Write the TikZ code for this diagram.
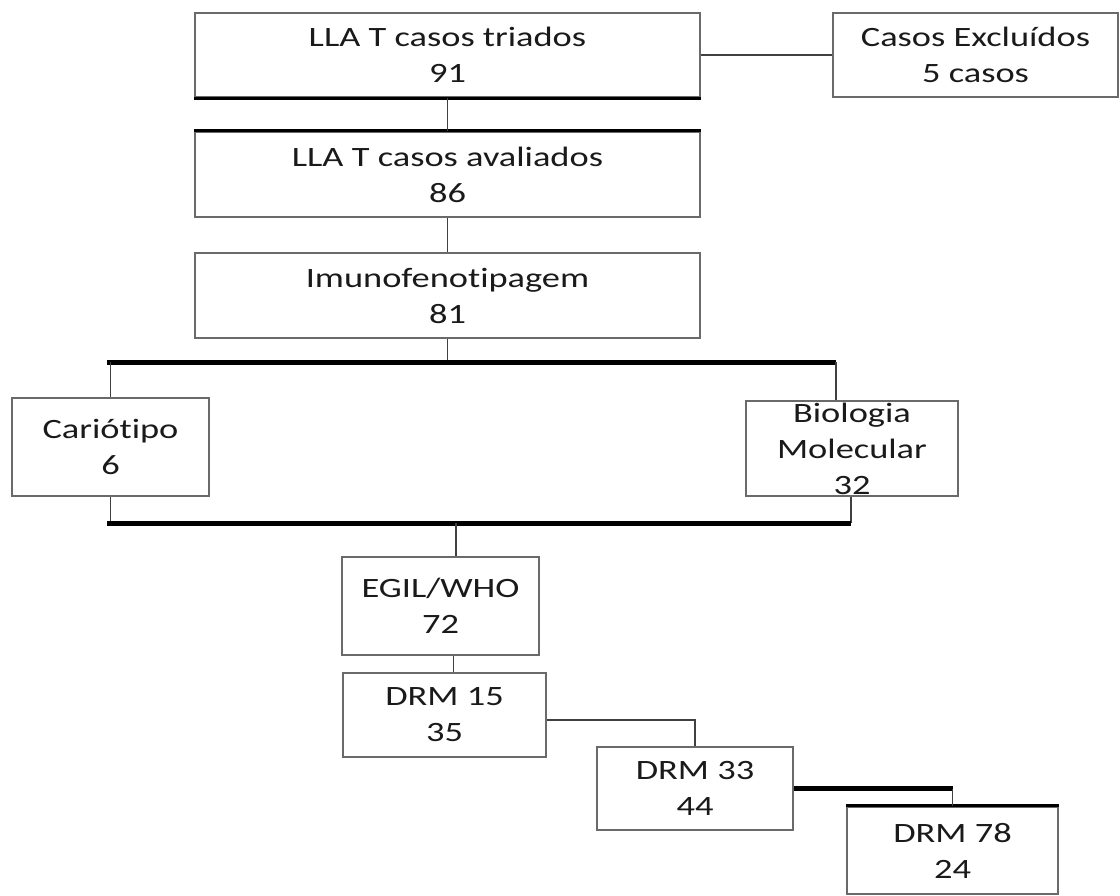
\documentclass[tikz,border=0pt]{standalone}
\usepackage{fontspec}
\setmainfont{Carlito}[FakeStretch=1.3, Ligatures=NoCommon]
\usetikzlibrary{calc}
\definecolor{boxgray}{HTML}{6A6A6A}
\definecolor{linegray}{HTML}{404040}
\definecolor{txt}{HTML}{1A1A1A}
\tikzset{
  flowbox/.style={draw=boxgray, line width=2.2pt, fill=white, align=center, inner sep=0pt,
    text=txt, font=\fontsize{28}{36}\selectfont},
  thinline/.style={draw=linegray, line width=1.8pt},
  thickline/.style={draw=black, line width=5pt},
  darkedge/.style={draw=black, line width=3pt}
}
\begin{document}
\begin{tikzpicture}[x=1pt,y=-1pt]
\useasboundingbox (0,0) rectangle (1120,896);
% boxes
\node[flowbox, minimum width=505pt, minimum height=84pt] (b1) at (447.5,55) {LLA T casos triados\\91};
\node[flowbox, minimum width=285pt, minimum height=84pt] (exc) at (975.5,55) {Casos Excluídos\\5 casos};
\node[flowbox, minimum width=505pt, minimum height=85pt] (b2) at (447.5,174.5) {LLA T casos avaliados\\86};
\node[flowbox, minimum width=505pt, minimum height=85pt] (b3) at (447.5,295.5) {Imunofenotipagem\\81};
\node[flowbox, minimum width=197pt, minimum height=98pt] (car) at (110.5,447) {Cariótipo\\6};
\node[flowbox, minimum width=212pt, minimum height=95pt] (bio) at (852,448.5) {Biologia\\Molecular\\32};
\node[flowbox, minimum width=197pt, minimum height=98pt] (egil) at (440.5,606) {EGIL/WHO\\72};
\node[flowbox, minimum width=203pt, minimum height=84pt] (d15) at (444.5,715) {DRM 15\\35};
\node[flowbox, minimum width=196pt, minimum height=83pt] (d33) at (695,788.5) {DRM 33\\44};
\node[flowbox, minimum width=211pt, minimum height=87pt] (d78) at (952.5,850.5) {DRM 78\\24};
% darker edges
\draw[darkedge] (b1.south west) -- (b1.south east);
\draw[darkedge] (b2.north west) -- (b2.north east);
\draw[darkedge] (d78.north west) -- (d78.north east);
% bus coordinates
\coordinate (tl) at (107,362);
\coordinate (tr) at (836,362);
\coordinate (bl) at (107,523);
\coordinate (br) at (851,523);
\coordinate (bm) at (456,523);
% connectors
\draw[thinline] (b1.east) -- (exc.west);
\draw[thinline] (b1.south) -- (b2.north);
\draw[thinline] (b2.south) -- (b3.north);
\draw[thinline] (b3.south) -- (b3.south |- tl);
\draw[thickline] (tl) -- (tr);
\draw[thinline] (car.north) -- (car.north |- tl);
\draw[thinline] (tr) -- (tr |- bio.north);
\draw[thinline] (car.south) -- (car.south |- bl);
\draw[thinline] (br |- bio.south) -- (br);
\draw[thickline] (bl) -- (br);
\draw[thinline] (bm) -- (bm |- egil.north);
\draw[thinline] ([xshift=13pt]egil.south) -- ([xshift=13pt]egil.south |- d15.north);
\draw[thinline] ([yshift=-5pt]d15.east) -| (d33.north);
\coordinate (k) at (d33.east -| d78.north);
\draw[thickline] (d33.east) -- (k);
\draw[thinline] (k) -- (d78.north);
\end{tikzpicture}
\end{document}
